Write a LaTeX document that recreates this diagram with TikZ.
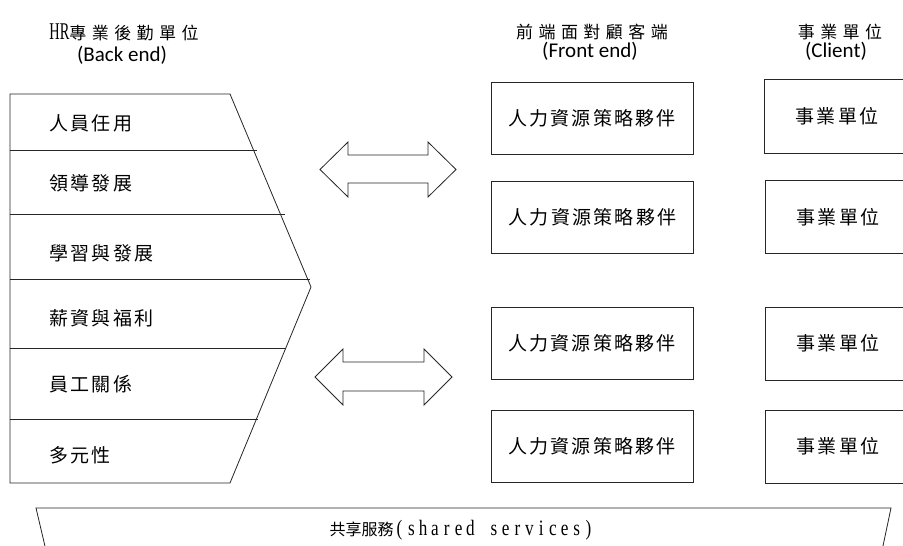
\documentclass[tikz,border=0pt]{standalone}
\usepackage{fontspec}
\newfontfamily\cjkrow[LetterSpace=12]{Noto Sans CJK TC}
\newfontfamily\cjkhead[LetterSpace=32]{Noto Sans CJK TC}
\newfontfamily\cjktight{Noto Sans CJK TC}
\newfontfamily\latnarrow[FakeStretch=0.6]{Liberation Serif}
\newfontfamily\latmid[FakeStretch=0.78]{Liberation Serif}
\newfontfamily\latsans{Carlito}
\newcommand\mcell[1]{\makebox[11.8pt]{#1}}
\begin{document}
\begin{tikzpicture}[x=1pt,y=-1pt,
  ln/.style={draw=black!85, line width=0.8pt, line join=miter},
  rowtext/.style={anchor=west, inner sep=0pt, font=\fontsize{19}{19}\selectfont\cjkrow},
  boxtext/.style={font=\fontsize{19}{19}\selectfont\cjkrow},
  fbox/.style={ln, boxtext, minimum width=202pt, minimum height=72pt, inner sep=0pt},
  cbox/.style={ln, boxtext, minimum width=146pt, minimum height=73pt, inner sep=0pt},
  headcjk/.style={inner sep=0pt, font=\fontsize{17}{17}\selectfont\cjkhead},
  headlat/.style={inner sep=0pt, font=\fontsize{21}{21}\selectfont\latsans}]
\useasboundingbox[fill=white] (0,0) rectangle (903,546);

% headings
\node[headcjk] (h1) at (124,32) {{\fontsize{24}{24}\selectfont\latnarrow HR}專業後勤單位};
\node[headlat] (h1b) at (122,55) {(Back end)};
\node[headcjk] (h2) at (592,32) {前端面對顧客端};
\node[headlat] (h2b) at (590,51) {(Front end)};
\node[headcjk] (h3) at (840,32) {事業單位};
\node[headlat] (h3b) at (836,51) {(Client)};

% back end chevron
\coordinate (c1) at (10,94);
\coordinate (c2) at (230,94);
\coordinate (c3) at (311,287);
\coordinate (c4) at (230,483);
\coordinate (c5) at (10,483);
\draw[ln] (c1) -- (c2) -- (c3) -- (c4) -- (c5) -- cycle;
\coordinate (l1a) at (10,150); \coordinate (l1b) at (257,150);
\coordinate (l2a) at (10,214); \coordinate (l2b) at (285,214);
\coordinate (l3a) at (10,279); \coordinate (l3b) at (310,279);
\coordinate (l4a) at (10,348); \coordinate (l4b) at (286,348);
\coordinate (l5a) at (10,419); \coordinate (l5b) at (258,419);
\foreach \i in {1,...,5} {\draw[ln] (l\i a) -- (l\i b);}

\node[rowtext] (r1) at (49,123) {人員任用};
\node[rowtext] (r2) at (49,183) {領導發展};
\node[rowtext] (r3) at (49,253) {學習與發展};
\node[rowtext] (r4) at (49,318) {薪資與福利};
\node[rowtext] (r5) at (49,384) {員工關係};
\node[rowtext] (r6) at (49,455) {多元性};

% double arrows
\draw[ln] (320,169.5) -- (348,142) -- (348,155) -- (428,155) -- (428,142) -- (456,169.5)
  -- (428,197) -- (428,183) -- (348,183) -- (348,197) -- cycle;
\draw[ln] (315,377) -- (343,349) -- (343,362) -- (424,362) -- (424,349) -- (452,377)
  -- (424,405) -- (424,391) -- (343,391) -- (343,405) -- cycle;

% front end boxes
\node[fbox] (f1) at (592,118) {人力資源策略夥伴};
\node[fbox] (f2) at (592.5,217) {人力資源策略夥伴};
\node[fbox] (f3) at (592,343.5) {人力資源策略夥伴};
\node[fbox] (f4) at (592,446.5) {人力資源策略夥伴};

% client boxes
\node[cbox, minimum height=74pt] (k1) at (837,116) {事業單位};
\node[cbox] (k2) at (838,217) {事業單位};
\node[cbox] (k3) at (838,343.5) {事業單位};
\node[cbox] (k4) at (838,446.5) {事業單位};

% shared services
\coordinate (s1) at (46.6,553);
\coordinate (s2) at (36,508);
\coordinate (s3) at (891,508);
\coordinate (s4) at (881.5,553);
\draw[ln] (s1) -- (s2) -- (s3) -- (s4);
\node[inner sep=0pt, font=\fontsize{16}{16}\selectfont] (sh) at (462,530)
  {\cjktight 共享服務{\fontsize{22}{22}\selectfont\latmid\mcell(\mcell s\mcell h\mcell a\mcell r\mcell e\mcell d\mcell{ }\mcell s\mcell e\mcell r\mcell v\mcell i\mcell c\mcell e\mcell s\mcell)}};
\end{tikzpicture}
\end{document}
